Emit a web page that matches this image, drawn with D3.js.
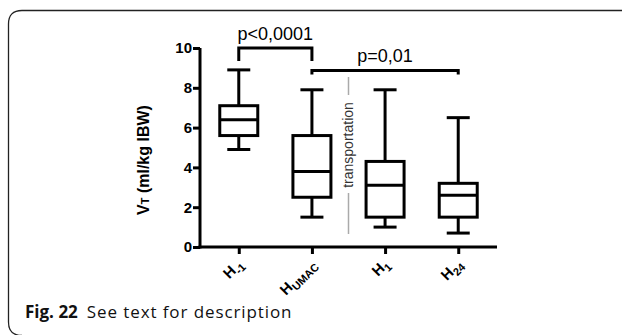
<!DOCTYPE html>
<html>
<head>
<meta charset="utf-8">
<script src="https://cdn.jsdelivr.net/npm/d3@7"></script>
<style>
  html, body { margin: 0; padding: 0; background: #fff; }
  svg { display: block; }
</style>
</head>
<body>
<svg id="chart" width="622" height="335"></svg>
<script>
// categories (main letter + subscript)
const groups = ['H-1', 'HUMAC', 'H1', 'H24'];
const groupSubs = ['-1', 'UMAC', '1', '24'];

// box plot values
const whiskerLow = [4.9, 1.5, 1.0, 0.7];
const quart1 = [5.6, 2.5, 1.5, 1.5];
const medians = [6.4, 3.8, 3.1, 2.6];
const quart3 = [7.1, 5.6, 4.3, 3.2];
const whiskerHigh = [8.9, 7.9, 7.9, 6.5];

const yTicks = [0, 2, 4, 6, 8, 10];

// significance brackets
const bracketFrom = ['H-1', 'HUMAC'];
const bracketTo = ['HUMAC', 'H24'];
const bracketLevel = [10, 8.87];
const bracketLabels = ['p<0,0001', 'p=0,01'];

const svg = d3.select('#chart');
const font = 'Liberation Sans, Arial, sans-serif';

// figure frame: top and left edge with rounded corners
svg.append('path')
  .attr('d', 'M622,10.5 L22,10.5 Q8.5,10.5 8.5,24 L8.5,322 Q8.5,335.5 22,335.5')
  .attr('fill', 'none')
  .attr('stroke', '#222')
  .attr('stroke-width', 1.3);

const x = d3.scalePoint().domain(groups).range([200, 497]).padding(0.53);
const y = d3.scaleLinear().domain([0, 10]).range([247, 48]);

const data = groups.map((g, i) => ({
  g, sub: groupSubs[i],
  lo: whiskerLow[i], q1: quart1[i], med: medians[i], q3: quart3[i], hi: whiskerHigh[i]
}));

// y axis
const yAxis = svg.append('g')
  .attr('transform', 'translate(200,0)')
  .call(d3.axisLeft(y).tickValues(yTicks).tickSize(7).tickSizeOuter(0).tickPadding(1));
yAxis.select('.domain').attr('stroke-width', 3).attr('d', `M0,${y(0) + 1.5}V${y(10)}`);
yAxis.selectAll('.tick line').attr('stroke-width', 3);
yAxis.selectAll('.tick text')
  .attr('font-family', font).attr('font-weight', 'bold').attr('font-size', 15).attr('fill', '#000');

// x axis
const xAxis = svg.append('g')
  .attr('transform', `translate(0,${y(0)})`)
  .call(d3.axisBottom(x).tickSize(7).tickSizeOuter(0).tickFormat(''));
xAxis.select('.domain').attr('stroke-width', 3).attr('d', 'M198.5,0H497');
xAxis.selectAll('.tick line').attr('stroke-width', 3);

// rotated category labels with subscripts
const lab = svg.append('g').selectAll('text')
  .data(data)
  .enter()
  .append('text')
  .attr('transform', d => `translate(${x(d.g) + 5},${y(0) + 18}) rotate(-45)`)
  .attr('text-anchor', 'end')
  .attr('font-family', font)
  .attr('font-weight', 'bold')
  .attr('font-size', 15);
lab.append('tspan').text('H');
lab.append('tspan').attr('font-size', 11).attr('dy', 4).text(d => d.sub);

// y axis title
const yt = svg.append('text')
  .attr('transform', 'translate(149,160) rotate(-90)')
  .attr('text-anchor', 'middle')
  .attr('font-family', font)
  .attr('font-weight', 'bold')
  .attr('font-size', 16);
yt.append('tspan').text('V');
yt.append('tspan').attr('font-size', 11).text('T');
yt.append('tspan').text(' (ml/kg IBW)');

// boxes
const boxW = 38;
const capW = 23;
const bx = svg.append('g')
  .selectAll('g.box')
  .data(data)
  .enter()
  .append('g')
  .attr('class', 'box')
  .attr('fill', 'none')
  .attr('stroke', '#000')
  .attr('stroke-width', 3);
bx.append('line')
  .attr('x1', d => x(d.g)).attr('x2', d => x(d.g))
  .attr('y1', d => y(d.hi)).attr('y2', d => y(d.q3));
bx.append('line')
  .attr('x1', d => x(d.g)).attr('x2', d => x(d.g))
  .attr('y1', d => y(d.q1)).attr('y2', d => y(d.lo));
bx.append('line')
  .attr('x1', d => x(d.g) - capW / 2).attr('x2', d => x(d.g) + capW / 2)
  .attr('y1', d => y(d.hi)).attr('y2', d => y(d.hi));
bx.append('line')
  .attr('x1', d => x(d.g) - capW / 2).attr('x2', d => x(d.g) + capW / 2)
  .attr('y1', d => y(d.lo)).attr('y2', d => y(d.lo));
bx.append('rect')
  .attr('x', d => x(d.g) - boxW / 2)
  .attr('y', d => y(d.q3))
  .attr('width', boxW)
  .attr('height', d => y(d.q1) - y(d.q3))
  .attr('fill', '#fff');
bx.append('line')
  .attr('x1', d => x(d.g) - boxW / 2).attr('x2', d => x(d.g) + boxW / 2)
  .attr('y1', d => y(d.med)).attr('y2', d => y(d.med));

// significance brackets
const legs = [13, 4];
bracketLabels.forEach((txt, i) => {
  const x1 = x(bracketFrom[i]);
  const x2 = x(bracketTo[i]);
  const yy = y(bracketLevel[i]);
  svg.append('path')
    .attr('d', `M${x1},${yy + legs[i]}V${yy}H${x2}V${yy + legs[i]}`)
    .attr('fill', 'none')
    .attr('stroke', '#000')
    .attr('stroke-width', 3);
  svg.append('text')
    .attr('x', (x1 + x2) / 2)
    .attr('y', yy - 8)
    .attr('text-anchor', 'middle')
    .attr('font-family', font)
    .attr('font-size', 18)
    .text(txt);
});

// "transportation" marker between HUMAC and H1
const tx = (x('HUMAC') + x('H1')) / 2;
svg.append('line')
  .attr('x1', tx).attr('x2', tx).attr('y1', 77).attr('y2', 95)
  .attr('stroke', '#aaa').attr('stroke-width', 1.5);
svg.append('line')
  .attr('x1', tx).attr('x2', tx).attr('y1', 193).attr('y2', 234)
  .attr('stroke', '#aaa').attr('stroke-width', 1.5);
svg.append('text')
  .attr('transform', `translate(${tx + 4},145) rotate(-90)`)
  .attr('text-anchor', 'middle')
  .attr('font-family', font)
  .attr('font-size', 14)
  .attr('fill', '#333')
  .text('transportation');

// caption
const cap = svg.append('text')
  .attr('x', 25)
  .attr('y', 318)
  .attr('font-family', 'Open Sans, Noto Sans, sans-serif')
  .attr('font-size', 17)
  .attr('fill', '#111');
cap.append('tspan').attr('font-weight', 'bold').text('Fig. 22');
cap.append('tspan').attr('dx', 9).attr('letter-spacing', 0.9).text('See text for description');
</script>
</body>
</html>
